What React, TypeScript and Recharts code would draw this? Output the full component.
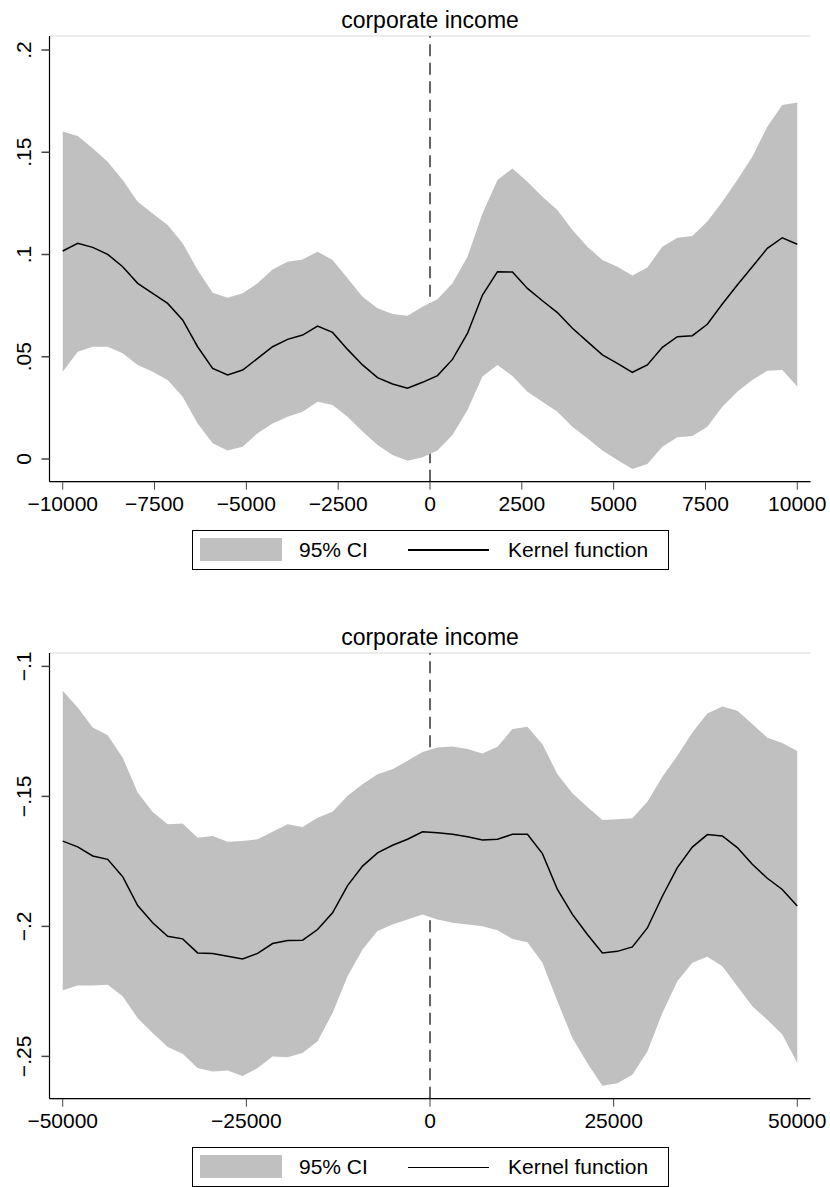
import React from 'react';
import { ComposedChart, Area, Line, XAxis, YAxis, CartesianGrid, ReferenceLine } from 'recharts';

const FONT = '"Liberation Sans", Arial, Helvetica, sans-serif';

// ---------- Panel 1 (bandwidth ±10000) ----------
const x1 = [
  -10000, -9592, -9184, -8776, -8367, -7959, -7551, -7143, -6735, -6327,
  -5918, -5510, -5102, -4694, -4286, -3878, -3469, -3061, -2653, -2245,
  -1837, -1429, -1020, -612, -204, 204, 612, 1020, 1429, 1837,
  2245, 2653, 3061, 3469, 3878, 4286, 4694, 5102, 5510, 5918,
  6327, 6735, 7143, 7551, 7959, 8367, 8776, 9184, 9592, 10000,
];
const mean1 = [
  0.1017, 0.1055, 0.1035, 0.1001, 0.0940, 0.0859, 0.0810, 0.0761, 0.0680, 0.0549,
  0.0443, 0.0411, 0.0435, 0.0492, 0.0549, 0.0585, 0.0606, 0.0650, 0.0619, 0.0536,
  0.0460, 0.0398, 0.0367, 0.0346, 0.0375, 0.0408, 0.0487, 0.0614, 0.0802, 0.0916,
  0.0914, 0.0834, 0.0774, 0.0716, 0.0639, 0.0574, 0.0509, 0.0468, 0.0424, 0.0460,
  0.0546, 0.0598, 0.0603, 0.0659, 0.0758, 0.0851, 0.0940, 0.1030, 0.1082, 0.1050,
];
const upper1 = [
  0.1601, 0.1579, 0.1519, 0.1454, 0.1364, 0.1258, 0.1201, 0.1144, 0.1055, 0.0924,
  0.0813, 0.0789, 0.0810, 0.0859, 0.0927, 0.0965, 0.0976, 0.1014, 0.0973, 0.0884,
  0.0794, 0.0737, 0.0709, 0.0701, 0.0745, 0.0781, 0.0859, 0.0989, 0.1201, 0.1364,
  0.1421, 0.1356, 0.1283, 0.1218, 0.1120, 0.1038, 0.0973, 0.0940, 0.0897, 0.0937,
  0.1038, 0.1082, 0.1090, 0.1161, 0.1258, 0.1364, 0.1478, 0.1625, 0.1731, 0.1743,
];
const lower1 = [
  0.0427, 0.0525, 0.0549, 0.0549, 0.0517, 0.0460, 0.0427, 0.0386, 0.0305, 0.0174,
  0.0077, 0.0041, 0.0060, 0.0126, 0.0174, 0.0207, 0.0231, 0.0280, 0.0264, 0.0207,
  0.0134, 0.0068, 0.0020, -0.0008, 0.0008, 0.0041, 0.0117, 0.0240, 0.0403, 0.0460,
  0.0406, 0.0329, 0.0280, 0.0231, 0.0158, 0.0101, 0.0041, -0.0005, -0.0049, -0.0024,
  0.0060, 0.0106, 0.0112, 0.0158, 0.0256, 0.0329, 0.0386, 0.0432, 0.0435, 0.0354,
];
const xTicks1 = [-10000, -7500, -5000, -2500, 0, 2500, 5000, 7500, 10000];
const yTicks1 = [0, 0.05, 0.1, 0.15, 0.2];

// ---------- Panel 2 (bandwidth ±50000) ----------
const x2 = [
  -50000, -47959, -45918, -43878, -41837, -39796, -37755, -35714, -33673, -31633,
  -29592, -27551, -25510, -23469, -21429, -19388, -17347, -15306, -13265, -11224,
  -9184, -7143, -5102, -3061, -1020, 1020, 3061, 5102, 7143, 9184,
  11224, 13265, 15306, 17347, 19388, 21429, 23469, 25510, 27551, 29592,
  31633, 33673, 35714, 37755, 39796, 41837, 43878, 45918, 47959, 50000,
];
const mean2 = [
  -0.1672, -0.1694, -0.1729, -0.1742, -0.1809, -0.1920, -0.1986, -0.2038, -0.2048, -0.2102,
  -0.2104, -0.2115, -0.2125, -0.2104, -0.2066, -0.2054, -0.2053, -0.2012, -0.1948, -0.1843,
  -0.1768, -0.1717, -0.1688, -0.1665, -0.1636, -0.1640, -0.1646, -0.1655, -0.1668, -0.1665,
  -0.1646, -0.1646, -0.1720, -0.1858, -0.1954, -0.2031, -0.2102, -0.2096, -0.2079, -0.2006,
  -0.1884, -0.1774, -0.1695, -0.1647, -0.1652, -0.1697, -0.1761, -0.1815, -0.1858, -0.1922,
];
const upper2 = [
  -0.1094, -0.1158, -0.1235, -0.1265, -0.1351, -0.1485, -0.1560, -0.1607, -0.1604, -0.1659,
  -0.1652, -0.1674, -0.1672, -0.1665, -0.1636, -0.1607, -0.1618, -0.1582, -0.1559, -0.1498,
  -0.1453, -0.1415, -0.1396, -0.1363, -0.1329, -0.1312, -0.1308, -0.1318, -0.1335, -0.1309,
  -0.1241, -0.1232, -0.1299, -0.1415, -0.1488, -0.1541, -0.1591, -0.1588, -0.1584, -0.1521,
  -0.1424, -0.1344, -0.1254, -0.1181, -0.1154, -0.1171, -0.1222, -0.1274, -0.1295, -0.1325,
];
const lower2 = [
  -0.2246, -0.2227, -0.2227, -0.2224, -0.2269, -0.2353, -0.2410, -0.2464, -0.2490, -0.2545,
  -0.2558, -0.2554, -0.2575, -0.2545, -0.2500, -0.2503, -0.2487, -0.2442, -0.2333, -0.2192,
  -0.2089, -0.2018, -0.1993, -0.1973, -0.1954, -0.1973, -0.1986, -0.1993, -0.1999, -0.2015,
  -0.2048, -0.2061, -0.2140, -0.2288, -0.2429, -0.2526, -0.2613, -0.2603, -0.2571, -0.2481,
  -0.2333, -0.2211, -0.2140, -0.2117, -0.2153, -0.2230, -0.2307, -0.2359, -0.2416, -0.2525,
];
const xTicks2 = [-50000, -25000, 0, 25000, 50000];
const yTicks2 = [-0.25, -0.2, -0.15, -0.1];

const title = 'corporate income';
const legendCI = '95% CI';
const legendLine = 'Kernel function';

const MINUS = '\u2212';
const fmtX = (v: number) => (v < 0 ? MINUS + Math.abs(v) : String(v));
const fmtY = (v: number) => {
  if (v === 0) return '0';
  const s = String(Math.abs(v)).replace(/^0/, '');
  return (v < 0 ? MINUS : '') + s;
};

const YTick = (props: any) => {
  const { y, payload } = props;
  return (
    <text
      x={24}
      y={y}
      transform={`rotate(-90 24 ${y})`}
      textAnchor="middle"
      dominantBaseline="central"
      fontSize={21}
      fontFamily={FONT}
      fill="#000"
    >
      {fmtY(payload.value)}
    </text>
  );
};

type PanelProps = {
  top: number;
  xs: number[];
  mean: number[];
  lo: number[];
  hi: number[];
  xTicks: number[];
  yTicks: number[];
  xDomain: [number, number];
  yDomain: [number, number];
};

const MARGIN = { top: 36, right: 19.5, bottom: 18.3, left: 0 };

function Panel({ top, xs, mean, lo, hi, xTicks, yTicks, xDomain, yDomain }: PanelProps) {
  const data = xs.map((x, i) => ({ x, mean: mean[i], ci: [lo[i], hi[i]] }));
  return (
    <div style={{ position: 'absolute', left: 0, top, width: 830, height: 575 }}>
      <div
        style={{
          position: 'absolute',
          left: 0,
          width: 860,
          top: 6.5,
          textAlign: 'center',
          fontFamily: FONT,
          fontSize: 23,
          lineHeight: '26px',
          color: '#000',
        }}
      >
        {title}
      </div>
      {/* bottom layer: gridlines and dashed reference line (under the CI band) */}
      <div style={{ position: 'absolute', left: 0, top: 0 }}>
        <ComposedChart width={830} height={530} data={data} margin={MARGIN}>
          <CartesianGrid vertical={false} stroke="#e6e6e6" strokeWidth={1.5} />
          <XAxis
            type="number"
            dataKey="x"
            domain={xDomain}
            ticks={xTicks}
            allowDataOverflow
            height={30}
            tick={false}
            axisLine={false}
            tickLine={false}
          />
          <YAxis
            type="number"
            domain={yDomain}
            ticks={yTicks}
            allowDataOverflow
            width={49.5}
            tick={false}
            axisLine={false}
            tickLine={false}
          />
          <ReferenceLine x={0} stroke="#333" strokeWidth={1.5} strokeDasharray="12 6.5" />
        </ComposedChart>
      </div>
      {/* top layer: axes, CI band and kernel line */}
      <div style={{ position: 'absolute', left: 0, top: 0 }}>
        <ComposedChart width={830} height={530} data={data} margin={MARGIN}>
          <XAxis
            type="number"
            dataKey="x"
            domain={xDomain}
            ticks={xTicks}
            allowDataOverflow
            height={30}
            tickSize={8}
            tickMargin={6}
            tickFormatter={fmtX}
            axisLine={{ stroke: '#000', strokeWidth: 1.2 }}
            tickLine={{ stroke: '#444', strokeWidth: 1 }}
            tick={{ fontSize: 21, fontFamily: FONT, fill: '#000' }}
            interval={0}
          />
          <YAxis
            type="number"
            domain={yDomain}
            ticks={yTicks}
            allowDataOverflow
            width={49.5}
            tickSize={8}
            axisLine={{ stroke: '#000', strokeWidth: 1.2 }}
            tickLine={{ stroke: '#444', strokeWidth: 1.5 }}
            tick={<YTick />}
            interval={0}
          />
          <Area
            dataKey="ci"
            type="linear"
            fill="#c0c0c0"
            fillOpacity={1}
            stroke="none"
            isAnimationActive={false}
            dot={false}
            activeDot={false}
          />
          <Line
            dataKey="mean"
            type="linear"
            stroke="#000"
            strokeWidth={1.5}
            dot={false}
            activeDot={false}
            isAnimationActive={false}
          />
        </ComposedChart>
      </div>
      <div
        style={{
          position: 'absolute',
          left: 192,
          top: 530,
          width: 477,
          height: 40,
          border: '1px solid #000',
          boxSizing: 'border-box',
          fontFamily: FONT,
          fontSize: 21,
          color: '#000',
          background: '#fff',
        }}
      >
        <div style={{ position: 'absolute', left: 7, top: 7, width: 82, height: 23, background: '#c0c0c0' }} />
        <div style={{ position: 'absolute', left: 106, top: 0, height: 38, lineHeight: '38px', whiteSpace: 'nowrap' }}>
          {legendCI}
        </div>
        <div style={{ position: 'absolute', left: 215, top: 18.25, width: 81, height: 1.5, background: '#000' }} />
        <div style={{ position: 'absolute', left: 315, top: 0, height: 38, lineHeight: '38px', whiteSpace: 'nowrap' }}>
          {legendLine}
        </div>
      </div>
    </div>
  );
}

export default function App() {
  return (
    <div style={{ position: 'absolute', left: 0, top: 0, width: 830, height: 1187, background: '#fff', overflow: 'hidden' }}>
      <Panel
        top={0}
        xs={x1}
        mean={mean1}
        lo={lower1}
        hi={upper1}
        xTicks={xTicks1}
        yTicks={yTicks1}
        xDomain={[-10360, 10360]}
        yDomain={[-0.0111, 0.20685]}
      />
      <Panel
        top={617.3}
        xs={x2}
        mean={mean2}
        lo={lower2}
        hi={upper2}
        xTicks={xTicks2}
        yTicks={yTicks2}
        xDomain={[-51800, 51800]}
        yDomain={[-0.26627, -0.09485]}
      />
    </div>
  );
}
